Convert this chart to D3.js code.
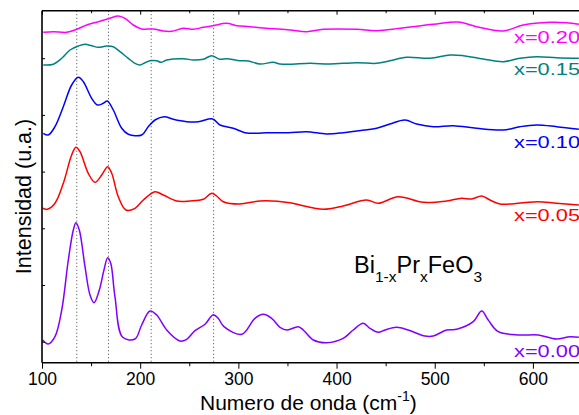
<!DOCTYPE html>
<html>
<head>
<meta charset="utf-8">
<script src="https://cdn.jsdelivr.net/npm/d3@7"></script>
<style>
  html, body { margin: 0; padding: 0; background: #fff; }
  svg { display: block; font-family: "Liberation Sans", Arial, sans-serif; }
</style>
</head>
<body>
<svg id="chart" width="579" height="415"></svg>
<script>
// ---- Data (wavenumber cm^-1, intensity a.u. offset per series) ----
const xTickLabels = [100, 200, 300, 400, 500, 600];
const xMinorTicks = [150, 250, 350, 450, 550, 650];
const yTicks = [21, 77.7, 134.4, 191.1, 247.8, 304.5];
const refLines = [135.4, 167.7, 211.2, 274.8];
const seriesNames = ["x=0.00", "x=0.05", "x=0.10", "x=0.15", "x=0.20"];

const s000 = [[100.7,22.7],[106.4,18.7],[113.2,26],[120.1,52.7],[126.8,102.7],[131.9,132.7],[134.6,140],[138,132.7],[143.8,96],[148.9,67.7],[153,60],[158.4,72.7],[163.1,92.7],[166.9,105],[170,99.4],[174.3,66],[182.2,25.4],[194.7,23.7],[201.5,37.7],[210,51.7],[216.8,47.7],[227,32.7],[240.5,21.7],[247.4,23.4],[255.8,32],[266,38.4],[274.4,48],[279.5,44.4],[285.3,36],[303.4,28.4],[316.9,44.4],[325.4,48.4],[333.9,44.4],[342.4,35.4],[349.8,32.7],[361,36],[366.1,32.7],[376.3,22.7],[389.9,20],[406.8,24.4],[417,32.7],[427.2,39.4],[434,34.4],[442.5,30.4],[449.3,32.7],[461.2,35.4],[473,32.7],[490,26.7],[498.5,26.7],[512.1,32.7],[522.3,33.4],[539.2,41],[547.8,51.7],[554.5,42.7],[564.7,31],[586.8,27.7],[605.4,27.7],[624.1,23.7],[637.7,26],[646.8,25.4]];

const s005 = [[100.7,154.4],[105.4,153.4],[113.2,159.4],[121.7,179.4],[130.2,207.7],[134.6,215.4],[138.7,211],[147.1,189.4],[154,180.4],[160.8,187.7],[166.9,196],[171,189.4],[177.7,166],[185.5,152.7],[194.7,154.4],[203.2,162.7],[215.1,171],[223.5,167.7],[237.2,161.7],[250.7,161.7],[264.3,163.4],[272.8,169.4],[277.9,166.7],[284.6,161],[301.6,158.7],[322,161.7],[352.5,160],[362.7,157.7],[386.5,153.4],[406.8,156.7],[430.6,162.7],[442.5,159.4],[462.8,166],[488.3,160.4],[512.1,161.7],[527.4,164.4],[537.6,163.7],[547.8,166.7],[556.2,162.7],[566.4,158.7],[590.1,160],[605.4,161],[624.1,159.4],[646.8,157.7]];

const s010 = [[101.3,229.4],[106.4,227.7],[113.2,236],[121.7,256],[130.2,277.7],[137,285.4],[142.1,281],[150.6,264.4],[156.3,257.7],[162.4,259.4],[166.5,261.7],[172.6,252.7],[181.2,234.4],[187.9,228.4],[201.5,227.7],[208.2,236],[215.1,242.7],[224.5,246],[233.7,243.4],[247.4,241],[259.2,241],[273.8,243.7],[281.3,237.7],[294.8,234.4],[306.7,230],[318.6,229.4],[328.8,230],[350.8,230],[369.6,231],[389.9,228.7],[406.8,230],[420.5,231.7],[440.8,234.4],[454.4,238.7],[469.7,242.7],[481.6,238.7],[498.5,236],[518.9,237],[542.7,234.4],[569.8,232.7],[586.8,236],[603.8,237.7],[624.1,236],[646.8,233.4]];

const s015 = [[101.3,297.7],[111.5,298.4],[120.1,304.4],[128.5,312.7],[137,316.7],[143.8,318.4],[150.6,317],[157.3,315.4],[165.9,316.7],[172.6,316],[179.4,311],[187.9,304.4],[194.7,299.4],[199.8,297.7],[204.9,300],[210,302],[216.8,302],[221.2,300.4],[227,302.7],[243.9,304],[254.1,302.7],[264.3,303.4],[272.8,307],[281.3,303.4],[288.1,304],[301.6,302],[310.1,301.7],[322,298.7],[335.5,300.4],[342.4,298.7],[352.5,298.4],[372.9,299.4],[393.2,298.7],[420.4,300],[440.8,299.4],[454.4,302],[471.4,305.4],[495.1,304.4],[515.5,307.7],[529,307],[549.4,303.7],[569.8,301],[586.8,304.4],[603.8,306],[624.1,305],[646.8,304.4]];

const s020 = [[101.3,330.4],[111.5,331],[125.2,330.4],[135.3,333.4],[145.5,337.7],[157.3,341],[169.2,344.4],[177.7,346.7],[184.5,344.4],[193,337.7],[201.5,333.7],[213.3,333.7],[223.5,331.7],[232.1,331.4],[243.9,334.4],[254.1,333.4],[264.3,335.4],[274.4,337],[288.1,339.4],[298.3,337],[311.8,336],[328.8,334.4],[352.5,332.7],[369.6,331],[386.5,333.4],[420.4,333.4],[440.8,332],[464.6,334.4],[498.5,338.4],[523.9,340.7],[542.7,336],[569.8,331.7],[590.1,337.7],[617.3,340.4],[634.3,340],[646.8,338.4]];

// ---- Layout / style ----
const colors = ["#8000ff", "#ff0000", "#0000ff", "#008080", "#ff00ff"];
const allSeries = [s000, s005, s010, s015, s020];
const labelPos = [[514, 356.5], [514, 221], [514, 147.5], [514, 75], [514, 43]];

const svg = d3.select("#chart");
svg.append("rect").attr("width", 579).attr("height", 415).attr("fill", "#fff");

const mLeft = 42, mRight = 582, mTop = 10.7, mBottom = 362.7;
const x = d3.scaleLinear().domain([100, 650]).range([mLeft, mRight]);
const y = d3.scaleLinear().domain([0, 352]).range([mBottom, mTop]);

// reference dotted lines
svg.append("g").selectAll("line").data(refLines).join("line")
  .attr("x1", d => x(d)).attr("x2", d => x(d))
  .attr("y1", mTop).attr("y2", mBottom)
  .attr("stroke", "#444").attr("stroke-width", 1)
  .attr("stroke-dasharray", "1,2.5");

// curves
const line = d3.line().x(d => x(d[0])).y(d => y(d[1])).curve(d3.curveCatmullRom.alpha(0.5));
svg.append("g").selectAll("path").data(allSeries).join("path")
  .attr("d", line)
  .attr("fill", "none")
  .attr("stroke", (d, i) => colors[i])
  .attr("stroke-width", 1.5)
  .attr("stroke-linejoin", "round");

// axes
const xAxis = d3.axisBottom(x).tickValues(xTickLabels).tickSize(6).tickPadding(4).tickFormat(d3.format("d"));
const gx = svg.append("g").attr("transform", `translate(0,${mBottom})`).call(xAxis);
gx.select(".domain").remove();
gx.selectAll("text").attr("font-size", 17.5).attr("font-family", "Liberation Sans, Arial, sans-serif").attr("fill", "#000");
gx.selectAll("line").attr("stroke", "#000").attr("stroke-width", 1);

const xMinor = d3.axisBottom(x).tickValues(xMinorTicks).tickSize(3.5).tickFormat("");
const gxm = svg.append("g").attr("transform", `translate(0,${mBottom})`).call(xMinor);
gxm.select(".domain").remove();

// top axis ticks (inward)
const xTop = d3.axisTop(x).tickValues(xTickLabels).tickSize(-4).tickFormat("");
const gt = svg.append("g").attr("transform", `translate(0,${mTop})`).call(xTop);
gt.select(".domain").remove();
const xTopMinor = d3.axisTop(x).tickValues(xMinorTicks).tickSize(-2.5).tickFormat("");
const gtm = svg.append("g").attr("transform", `translate(0,${mTop})`).call(xTopMinor);
gtm.select(".domain").remove();

// left axis ticks (inward)
const yAxis = d3.axisLeft(y).tickValues(yTicks).tickSize(-3).tickFormat("");
const gy = svg.append("g").attr("transform", `translate(${mLeft},0)`).call(yAxis);
gy.select(".domain").remove();

// frame lines
svg.append("line").attr("x1", mLeft).attr("x2", 579).attr("y1", mBottom).attr("y2", mBottom).attr("stroke", "#000").attr("stroke-width", 1.6);
svg.append("line").attr("x1", mLeft).attr("x2", 579).attr("y1", mTop).attr("y2", mTop).attr("stroke", "#000").attr("stroke-width", 1.6);
svg.append("line").attr("x1", mLeft).attr("x2", mLeft).attr("y1", mTop).attr("y2", mBottom).attr("stroke", "#000").attr("stroke-width", 1.6);

// series labels
svg.append("g").selectAll("text").data(seriesNames).join("text")
  .attr("x", (d, i) => labelPos[i][0]).attr("y", (d, i) => labelPos[i][1])
  .attr("fill", (d, i) => colors[i])
  .attr("font-size", 16)
  .attr("textLength", 66).attr("lengthAdjust", "spacingAndGlyphs")
  .text(d => d);

// formula
const f = svg.append("text").attr("x", 354).attr("y", 273.3).attr("font-size", 23.5).attr("fill", "#000");
f.append("tspan").text("Bi");
f.append("tspan").attr("font-size", 15.5).attr("dy", 9).text("1-x");
f.append("tspan").attr("dy", -9).text("Pr");
f.append("tspan").attr("font-size", 15.5).attr("dy", 9).text("x");
f.append("tspan").attr("dy", -9).text("FeO");
f.append("tspan").attr("font-size", 15.5).attr("dy", 9).text("3");

// x axis title
const xt = svg.append("text").attr("x", 200).attr("y", 409.5).attr("font-size", 21).attr("fill", "#000");
xt.append("tspan").text("Numero de onda (cm");
xt.append("tspan").attr("font-size", 14).attr("dy", -8.5).text("-1");
xt.append("tspan").attr("dy", 8.5).text(")");

// y axis title
svg.append("text")
  .attr("transform", "translate(31,196.5) rotate(-90)")
  .attr("text-anchor", "middle")
  .attr("font-size", 21.5).attr("fill", "#000")
  .text("Intensidad (u.a.)");
</script>
</body>
</html>
